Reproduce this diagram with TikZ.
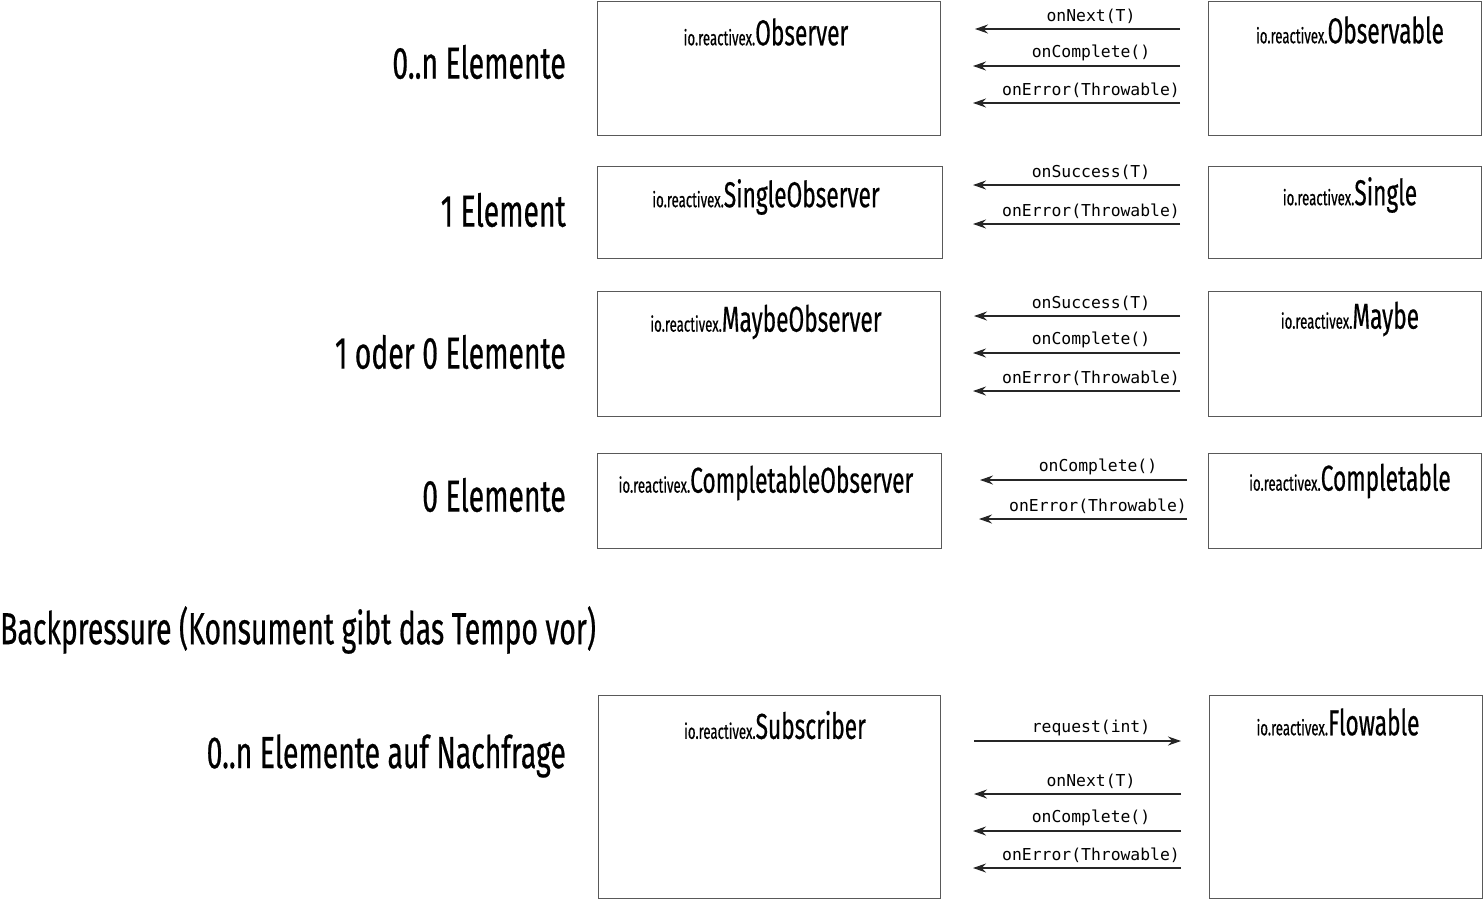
\documentclass[tikz,border=0pt]{standalone}
\usepackage{fontspec}
\usetikzlibrary{arrows.meta}
\newfontfamily\osw[FakeStretch=0.63,FakeBold=0.45]{Fira Sans}
\newfontfamily\mono{DejaVu Sans Mono}
\tikzset{
  box/.style={draw=black!65, line width=1pt, inner sep=0pt, anchor=north west},
  side/.style={font=\osw\fontsize{45}{50}\selectfont, anchor=east, inner sep=0pt},
  head/.style={font=\osw\fontsize{45}{50}\selectfont, anchor=west, inner sep=0pt},
  ttl/.style={anchor=center, inner sep=0pt},
  msg/.style={font=\mono\fontsize{16.4}{18}\selectfont, anchor=center, inner sep=0pt},
  arr/.style={-{Stealth[length=13pt,width=9pt]}, line width=1.1pt, black!85}
}
\newcommand{\cls}[1]{{\osw\fontsize{21}{22}\selectfont io.reactivex.}{\osw\fontsize{36}{38}\selectfont #1}}
\begin{document}
\begin{tikzpicture}[x=1pt,y=-1pt]
\useasboundingbox (0,0) rectangle (1483,900);
% row 1
\node[side] (l1) at (566,62) {0..n Elemente};
\node[box, minimum width=343pt, minimum height=134pt] (b1a) at (597,1) {};
\node[box, minimum width=273pt, minimum height=134pt] (b1b) at (1208,1) {};
\node[ttl] (t1a) at (766,32) {\cls{Observer}};
\node[ttl] (t1b) at (1350,30) {\cls{Observable}};
\coordinate (r1s1) at (1180,29); \coordinate (r1e1) at (975,29);
\coordinate (r1s2) at (1180,66); \coordinate (r1e2) at (973,66);
\coordinate (r1s3) at (1180,103); \coordinate (r1e3) at (973,103);
\draw[arr] (r1s1) -- (r1e1);
\draw[arr] (r1s2) -- (r1e2);
\draw[arr] (r1s3) -- (r1e3);
\node[msg] (m11) at (1091,16) {onNext(T)};
\node[msg] (m12) at (1091,53) {onComplete()};
\node[msg] (m13) at (1091,90) {onError(Throwable)};
% row 2
\node[side] (l2) at (566,210) {1 Element};
\node[box, minimum width=345pt, minimum height=92pt] (b2a) at (597,166) {};
\node[box, minimum width=273pt, minimum height=92pt] (b2b) at (1208,166) {};
\node[ttl] (t2a) at (766,197) {\cls{SingleObserver}};
\node[ttl] (t2b) at (1350,195) {\cls{Single}};
\coordinate (r2s1) at (1180,185); \coordinate (r2e1) at (973,185);
\coordinate (r2s2) at (1180,224); \coordinate (r2e2) at (973,224);
\draw[arr] (r2s1) -- (r2e1);
\draw[arr] (r2s2) -- (r2e2);
\node[msg] (m21) at (1091,172) {onSuccess(T)};
\node[msg] (m22) at (1091,211) {onError(Throwable)};
% row 3
\node[side] (l3) at (566,352) {1 oder 0 Elemente};
\node[box, minimum width=343pt, minimum height=125pt] (b3a) at (597,291) {};
\node[box, minimum width=273pt, minimum height=125pt] (b3b) at (1208,291) {};
\node[ttl] (t3a) at (766,322) {\cls{MaybeObserver}};
\node[ttl] (t3b) at (1350,319) {\cls{Maybe}};
\coordinate (r3s1) at (1180,316); \coordinate (r3e1) at (974,316);
\coordinate (r3s2) at (1180,353); \coordinate (r3e2) at (973,353);
\coordinate (r3s3) at (1180,391); \coordinate (r3e3) at (973,391);
\draw[arr] (r3s1) -- (r3e1);
\draw[arr] (r3s2) -- (r3e2);
\draw[arr] (r3s3) -- (r3e3);
\node[msg] (m31) at (1091,303) {onSuccess(T)};
\node[msg] (m32) at (1091,340) {onComplete()};
\node[msg] (m33) at (1091,378) {onError(Throwable)};
% row 4
\node[side] (l4) at (566,495) {0 Elemente};
\node[box, minimum width=344pt, minimum height=95pt] (b4a) at (597,453) {};
\node[box, minimum width=273pt, minimum height=95pt] (b4b) at (1208,453) {};
\node[ttl] (t4a) at (766,483) {\cls{CompletableObserver}};
\node[ttl] (t4b) at (1350,481) {\cls{Completable}};
\coordinate (r4s1) at (1187,480); \coordinate (r4e1) at (980,480);
\coordinate (r4s2) at (1187,519); \coordinate (r4e2) at (979,519);
\draw[arr] (r4s1) -- (r4e1);
\draw[arr] (r4s2) -- (r4e2);
\node[msg] (m41) at (1098,467) {onComplete()};
\node[msg] (m42) at (1098,506) {onError(Throwable)};
% backpressure
\node[head] (bp) at (0,630) {Backpressure (Konsument gibt das Tempo vor)};
% row 5
\node[side] (l5) at (566,756) {0..n Elemente auf Nachfrage};
\node[box, minimum width=342pt, minimum height=203pt] (b5a) at (598,695) {};
\node[box, minimum width=273pt, minimum height=203pt] (b5b) at (1209,695) {};
\node[ttl] (t5a) at (775,725) {\cls{Subscriber}};
\node[ttl] (t5b) at (1338,722) {\cls{Flowable}};
\coordinate (r5s0) at (974,741); \coordinate (r5e0) at (1181,741);
\coordinate (r5s1) at (1181,794); \coordinate (r5e1) at (974,794);
\coordinate (r5s2) at (1181,831); \coordinate (r5e2) at (973,831);
\coordinate (r5s3) at (1181,868); \coordinate (r5e3) at (973,868);
\draw[arr] (r5s0) -- (r5e0);
\draw[arr] (r5s1) -- (r5e1);
\draw[arr] (r5s2) -- (r5e2);
\draw[arr] (r5s3) -- (r5e3);
\node[msg] (m50) at (1091,728) {request(int)};
\node[msg] (m51) at (1091,781) {onNext(T)};
\node[msg] (m52) at (1091,818) {onComplete()};
\node[msg] (m53) at (1091,855) {onError(Throwable)};
\end{tikzpicture}
\end{document}
